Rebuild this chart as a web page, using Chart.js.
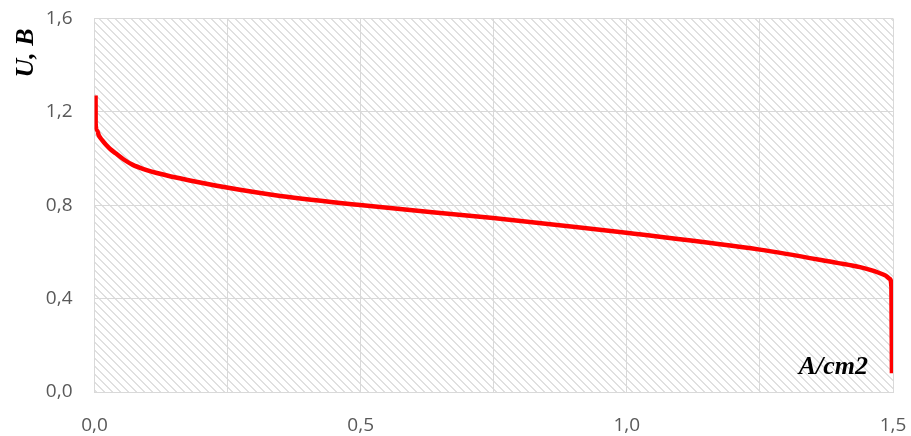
<!DOCTYPE html>
<html>
<head>
<meta charset="utf-8">
<script src="https://cdn.jsdelivr.net/npm/chart.js@4/dist/chart.umd.min.js"></script>
<style>
  html, body { margin: 0; padding: 0; background: #ffffff; }
  #wrap { width: 911px; height: 436px; position: relative; }
</style>
</head>
<body>
<div id="wrap"><canvas id="chart"></canvas></div>
<script>
// Polarization curve: current density (A/cm2) vs. cell voltage (U, B)
const currentDensity = [
  0.002, 0.0022, 0.005, 0.008, 0.014, 0.022, 0.030, 0.039, 0.055, 0.072,
  0.095, 0.117, 0.179, 0.273, 0.349, 0.499, 0.749, 0.912, 1.003, 1.250,
  1.395, 1.438, 1.465, 1.485, 1.494, 1.497, 1.498
];
const voltage = [
  1.270, 1.145, 1.120, 1.100, 1.080, 1.058, 1.040, 1.024, 0.996, 0.973,
  0.953, 0.938, 0.906, 0.866, 0.840, 0.801, 0.745, 0.705, 0.681, 0.610,
  0.553, 0.535, 0.518, 0.500, 0.485, 0.450, 0.080
];
const xTickValues = [0, 0.5, 1.0, 1.5];
const yTitle = 'U, B';
const xTitle = 'A/cm2';

const points = currentDensity.map((x, i) => ({ x: x, y: voltage[i] }));
const fmt = v => v.toFixed(1).replace('.', ',');

// Diagonal hatch fill for the plot area
function makeHatch() {
  const c = document.createElement('canvas');
  c.width = 8; c.height = 8;
  const g = c.getContext('2d');
  g.fillStyle = '#e0e0e0';
  for (let r = 0; r < 8; r++) {
    g.fillRect(r % 8, r, 1, 1);
    g.fillRect((r + 1) % 8, r, 1, 1);
  }
  return c;
}

const plotDecor = {
  id: 'plotDecor',
  beforeDraw(chart) {
    const { ctx, chartArea: a } = chart;
    ctx.save();
    ctx.fillStyle = ctx.createPattern(makeHatch(), 'repeat');
    ctx.fillRect(a.left, a.top, a.right - a.left, a.bottom - a.top);
    ctx.restore();
  },
  afterDraw(chart) {
    const { ctx, chartArea: a } = chart;
    ctx.save();
    ctx.fillStyle = '#000000';
    ctx.font = 'bold italic 26px "Liberation Serif"';
    ctx.textAlign = 'right';
    ctx.textBaseline = 'alphabetic';
    ctx.fillText(xTitle, a.right - 25, a.bottom - 18);
    ctx.translate(33, 53);
    ctx.rotate(-Math.PI / 2);
    ctx.textAlign = 'center';
    ctx.fillText(yTitle, 0, 0);
    ctx.restore();
  }
};

const hidden = 'rgba(0,0,0,0)';

new Chart(document.getElementById('chart'), {
  type: 'scatter',
  data: {
    datasets: [{
      data: points,
      showLine: true,
      borderColor: '#ff0000',
      borderWidth: 4.5,
      pointRadius: 0,
      cubicInterpolationMode: 'monotone',
      borderCapStyle: 'butt',
      borderJoinStyle: 'round'
    }]
  },
  options: {
    responsive: true,
    maintainAspectRatio: false,
    animation: false,
    layout: { padding: { top: 18.5, right: 18, left: 0, bottom: 0 } },
    plugins: { legend: { display: false }, tooltip: { enabled: false } },
    scales: {
      x: {
        type: 'linear',
        min: 0, max: 1.5,
        afterFit(s) { s.height = 44; },
        grid: { color: '#d9d9d9', lineWidth: 1, drawTicks: true, tickLength: 22, tickColor: hidden },
        border: { color: '#d9d9d9', width: 1 },
        ticks: {
          stepSize: 0.25,
          padding: 0,
          color: '#595959',
          font: { family: '"Open Sans"', size: 19 },
          maxRotation: 0,
          callback: v => xTickValues.some(t => Math.abs(t - v) < 1e-6) ? fmt(v) : ''
        }
      },
      y: {
        type: 'linear',
        min: 0, max: 1.6,
        afterFit(s) { s.width = 94.5; },
        grid: { color: '#d9d9d9', lineWidth: 1, drawTicks: true, tickLength: 22, tickColor: hidden },
        border: { color: '#d9d9d9', width: 1 },
        ticks: {
          stepSize: 0.4,
          padding: 0,
          color: '#595959',
          font: { family: '"Open Sans"', size: 19 },
          callback: v => fmt(v)
        }
      }
    }
  },
  plugins: [plotDecor]
});
</script>
</body>
</html>
